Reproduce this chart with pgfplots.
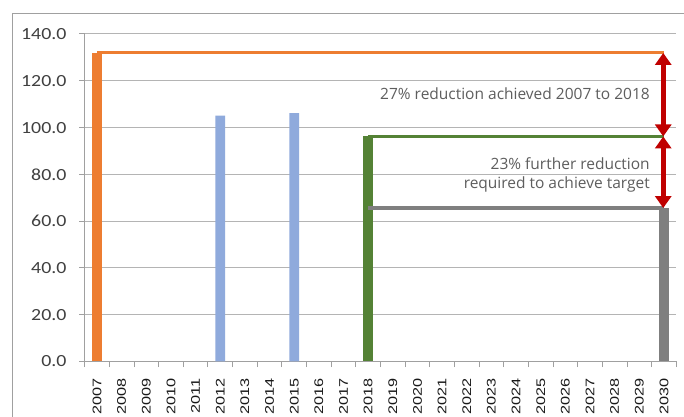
\documentclass[border=0pt]{standalone}
\usepackage{fontspec}
\setmainfont{Carlito}
\newfontfamily\notefont{Open Sans}
\newfontfamily\yearfont{Liberation Sans}
\usepackage{pgfplots}
\pgfplotsset{compat=1.18}
\usetikzlibrary{arrows.meta}

\definecolor{barorange}{HTML}{ED7D31}
\definecolor{barblue}{HTML}{8FAADC}
\definecolor{bargreen}{HTML}{548235}
\definecolor{bargray}{HTML}{7F7F7F}
\definecolor{arrowred}{HTML}{C00000}
\definecolor{gridgray}{HTML}{B4B4B4}
\definecolor{framegray}{HTML}{A0A0A0}
\definecolor{notegray}{HTML}{5E5E5E}
\definecolor{labelgray}{HTML}{404040}

\begin{document}
\begin{tikzpicture}
\useasboundingbox (0bp,0bp) rectangle (684bp,417bp);
\fill[white] (0bp,0bp) rectangle (684bp,417bp);
% chart area border
\draw[framegray, line width=1bp] (12.3bp,0bp) -- (12.3bp,403.7bp) -- (684bp,403.7bp);
\begin{axis}[
  scale only axis, width=591.6bp, height=327.5bp,
  at={(84.7bp,55.5bp)}, anchor=south west,
  xmin=-0.5, xmax=23.5, ymin=0, ymax=140,
  axis lines*=left,
  axis line style={framegray, line width=1bp},
  tick align=outside,
  major tick length=5.5bp,
  tick style={framegray, line width=1bp},
  ytick={0,20,...,140},
  ymajorgrids, grid style={gridgray, line width=1bp},
  xtick={-0.5,0.5,1.5,2.5,3.5,4.5,5.5,6.5,7.5,8.5,9.5,10.5,11.5,12.5,13.5,14.5,15.5,16.5,17.5,18.5,19.5,20.5,21.5,22.5,23.5},
  x tick label as interval,
  xticklabels={2007,2008,2009,2010,2011,2012,2013,2014,2015,2016,2017,2018,2019,2020,2021,2022,2023,2024,2025,2026,2027,2028,2029,2030},
  x tick label style={rotate=90, anchor=east, inner sep=0pt, xscale=1.3,
    font=\yearfont\fontsize{12.5bp}{14bp}\selectfont, text=black!90},
  xticklabel shift=11bp,
  /pgf/number format/assume math mode=true,
  yticklabel style={anchor=east, inner sep=0pt, xscale=1.17,
    font=\fontsize{17bp}{20bp}\selectfont, text=labelgray,
    /pgf/number format/.cd, fixed, fixed zerofill, precision=1},
  yticklabel shift=12.5bp,
  clip=false,
]
% emissions bars
\addplot[ybar, bar shift=0pt, bar width=0.4, fill=barorange, draw=none] coordinates {(0,131.9)};
\addplot[ybar, bar shift=0pt, bar width=0.4, fill=barblue, draw=none] coordinates {(5,105.1) (8,106.2)};
\addplot[ybar, bar shift=0pt, bar width=0.4, fill=bargreen, draw=none] coordinates {(11,96.2)};
\addplot[ybar, bar shift=0pt, bar width=0.4, fill=bargray, draw=none] coordinates {(23,65.6)};
% reference levels
\addplot[barorange, line width=3bp] coordinates {(0,131.9) (23,131.9)};
\addplot[bargreen, line width=3.2bp] coordinates {(11,96.2) (23,96.2)};
\addplot[bargray, line width=3.2bp] coordinates {(11,65.6) (23,65.6)};
% reduction arrows
\addplot[arrowred, line width=5bp,
  {Triangle[width=16bp,length=12bp]}-{Triangle[width=16bp,length=12bp]}]
  coordinates {(22.97,131.9) (22.97,96.2)};
\addplot[arrowred, line width=5bp,
  {Triangle[width=16bp,length=12bp]}-{Triangle[width=16bp,length=12bp]}]
  coordinates {(22.97,96.2) (22.97,65.6)};
% notes
\node[anchor=east, inner sep=0pt, text=notegray,
  font=\notefont\fontsize{15.5bp}{19bp}\selectfont]
  at (axis cs:22.43,114.3) {27\% reduction achieved 2007 to 2018};
\node[anchor=east, inner sep=0pt, align=right, text=notegray,
  font=\notefont\fontsize{15.5bp}{19bp}\selectfont]
  at (axis cs:22.43,79.6) {23\% further reduction\\required to achieve target};
\end{axis}
\end{tikzpicture}
\end{document}
